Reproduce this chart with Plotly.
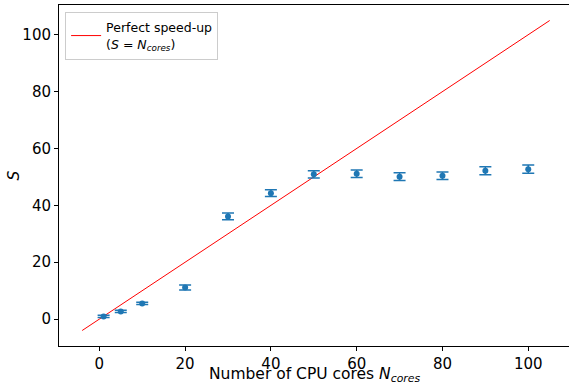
import plotly.graph_objects as go

cores = [1, 5, 10, 20, 30, 40, 50, 60, 70, 80, 90, 100]
speedup = [0.95, 2.7, 5.5, 11.1, 36.1, 44.3, 50.9, 51.1, 50.1, 50.4, 52.2, 52.7]
speedup_err = [0.4, 0.4, 0.4, 0.9, 1.2, 1.2, 1.3, 1.3, 1.4, 1.3, 1.4, 1.45]
ideal_x = [-4, 105]
ideal_y = [-4, 105]

BLUE = "#1f77b4"
FONT = "DejaVu Sans"

fig = go.Figure()
fig.add_trace(go.Scatter(
    x=ideal_x, y=ideal_y, mode="lines",
    line=dict(color="red", width=1),
    name="Perfect speed-up<br>(<i>S</i> = <i>N</i><sub><i>cores</i></sub>)",
))
fig.add_trace(go.Scatter(
    x=cores, y=speedup, mode="markers",
    marker=dict(color=BLUE, size=6),
    error_y=dict(type="data", array=speedup_err, color=BLUE, thickness=1.5, width=6),
    showlegend=False,
))

axis_common = dict(
    showgrid=False, zeroline=False, showline=True, linecolor="black", linewidth=1,
    ticks="outside", ticklen=4, tickcolor="black",
    tickfont=dict(family=FONT, size=15, color="black"),
)
fig.update_layout(
    width=569, height=387,
    margin=dict(l=59, r=0, t=5, b=41),
    paper_bgcolor="white", plot_bgcolor="white",
    font=dict(family=FONT, color="black"),
    xaxis=dict(range=[-9.4, 109.5], tickvals=[0, 20, 40, 60, 80, 100], mirror=True,
               **axis_common),
    yaxis=dict(range=[-9.45, 110.45], tickvals=[0, 20, 40, 60, 80, 100],
               **axis_common),
    legend=dict(x=0.012, y=0.98, xanchor="left", yanchor="top",
                bgcolor="white", bordercolor="#cccccc", borderwidth=1,
                font=dict(family=FONT, size=12.5)),
    annotations=[
        dict(text="Number of CPU cores <i>N</i><sub><i>cores</i></sub>",
             xref="x domain", yref="y domain", x=0.5, y=0, xanchor="center",
             yanchor="top", yshift=-17, showarrow=False,
             font=dict(family=FONT, size=15.5, color="black")),
        dict(text="<i>S</i>", xref="x domain", yref="y domain", x=0, y=0.5,
             xanchor="center", yanchor="middle", xshift=-46, textangle=-90,
             showarrow=False, font=dict(family=FONT, size=15.5, color="black")),
    ],
)

fig.write_html("out.html")
